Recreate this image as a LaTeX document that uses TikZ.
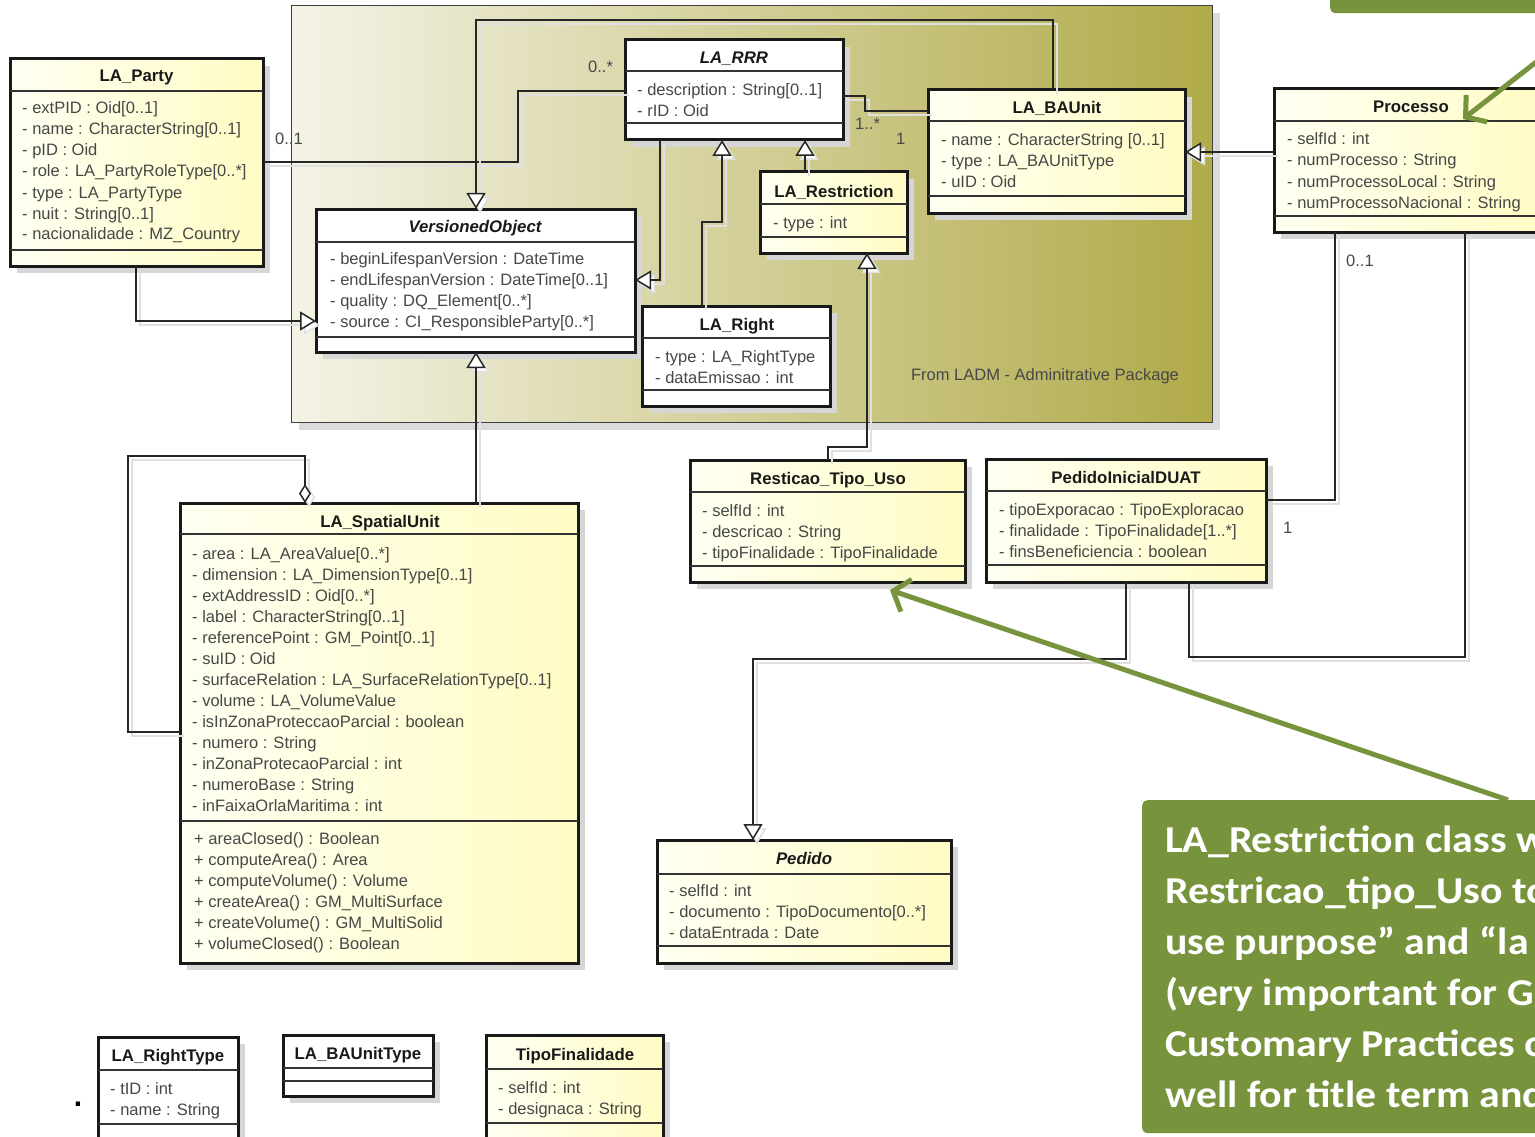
\documentclass[tikz,border=0pt]{standalone}
\usepackage{fontspec}
\setmainfont{Liberation Sans}
\newfontfamily\calib[FakeStretch=1.1]{Carlito}
\usetikzlibrary{arrows.meta}
\definecolor{yelL}{RGB}{255,255,242}
\definecolor{yelR}{RGB}{255,252,196}
\definecolor{pkgL}{RGB}{244,243,230}
\definecolor{pkgR}{RGB}{176,170,72}
\definecolor{gcol}{RGB}{119,147,60}
\newcommand\umlbox[6]{%
  \fill[shd] (#3+7,#4+7) rectangle (#5+7,#6+7);
  \node[#2, minimum width=#5-#3, minimum height=#6-#4] (#1) at (#3,#4) {};}
\newcommand\umlsep[2]{\draw[sepl] (#1.west |- 0,#2) -- (#1.east |- 0,#2);}
\newcommand\umlattrs[4]{\foreach \itm [count=\i] in {#4} {\node[attr] (#1\i) at (#2,#3+21*\i-21) {\itm};}}
\begin{document}
\begin{tikzpicture}[x=1pt,y=-1pt,
  box/.style={draw=black!90, line width=3pt, inner sep=0pt, outer sep=0pt, anchor=north west},
  ybox/.style={box, left color=yelL, right color=yelR},
  wbox/.style={box, fill=white},
  sepl/.style={line width=1.3pt, draw=black!80},
  shd/.style={fill=black!16},
  ttl/.style={font=\bfseries\fontsize{16.8}{20}\selectfont, text=black!90, anchor=base, inner sep=0pt},
  ittl/.style={ttl, font=\bfseries\itshape\fontsize{16.8}{20}\selectfont},
  attr/.style={font=\fontsize{16.5}{20}\selectfont, text=black!72, anchor=base west, inner sep=0pt},
  conn/.style={line width=1.5pt, draw=black!85, preaction={draw=black!12, line width=1.5pt, transform canvas={shift={(4pt,-4pt)}}}},
  gen/.style={conn, -{Triangle[open, length=16pt, width=19pt, fill=white]}},
  agg/.style={conn, {Diamond[open, length=19pt, width=12pt, fill=white]}-},
  garrow/.style={draw=gcol, line width=5pt, -{Straight Barb[length=14pt, width=34pt]}},
  note/.style={fill=gcol, rounded corners=5pt, anchor=north west, inner sep=0pt},
  notetxt/.style={font=\calib\bfseries\fontsize{38}{51}\selectfont, text=white, anchor=base west, inner sep=0pt}
]
\useasboundingbox (0,0) rectangle (1535,1137);
\clip (0,0) rectangle (1535,1137);
\fill[white] (0,0) rectangle (1535,1137);

% top green box (cut by the edge)
\node[note, minimum width=240, minimum height=40] (topnote) at (1330,-27) {};

% package
\fill[black!14] (299,13) rectangle (1220,430);
\node[draw=black!75, line width=1.2pt, left color=pkgL, right color=pkgR, anchor=north west,
      minimum width=921, minimum height=417, inner sep=0pt] (pkg) at (291,5) {};
\node[attr, anchor=base] (pkglabel) at (1045,380) {From LADM - Adminitrative Package};

% classes
\umlbox{party}{ybox}{10}{59}{263}{266}
\umlsep{party}{91}\umlsep{party}{250}
\node[ttl] (partyt) at (136.5,82) {LA\_Party};
\umlattrs{partya}{22}{114}{{- extPID : Oid[0..1]},{- name : CharacterString[0..1]},{- pID : Oid},{- role : LA\_PartyRoleType[0..*]},{- type : LA\_PartyType},{- nuit : String[0..1]},{- nacionalidade : MZ\_Country}}

\umlbox{vo}{wbox}{316}{209}{635}{352}
\umlsep{vo}{242}\umlsep{vo}{337}
\node[ittl] (vot) at (475,233) {VersionedObject};
\umlattrs{voa}{330}{264}{{- beginLifespanVersion : DateTime},{- endLifespanVersion : DateTime[0..1]},{- quality : DQ\_Element[0..*]},{- source : CI\_ResponsibleParty[0..*]}}

\umlbox{rrr}{wbox}{625}{40}{843}{140}
\umlsep{rrr}{71}\umlsep{rrr}{123}
\node[ittl] (rrrt) at (734,64) {LA\_RRR};
\umlattrs{rrra}{637}{96}{{- description : String[0..1]},{- rID : Oid}}

\umlbox{bau}{ybox}{928}{90}{1185}{213}
\umlsep{bau}{121}\umlsep{bau}{196}
\node[ttl] (baut) at (1057,114) {LA\_BAUnit};
\umlattrs{baua}{941}{146}{{- name : CharacterString [0..1]},{- type : LA\_BAUnitType},{- uID : Oid}}

\umlbox{res}{ybox}{760}{172}{907}{253}
\umlsep{res}{204}\umlsep{res}{237}
\node[ttl] (rest) at (834,197) {LA\_Restriction};
\umlattrs{resa}{773}{229}{{- type : int}}

\umlbox{right}{wbox}{642}{306}{830}{406}
\umlsep{right}{338}\umlsep{right}{390}
\node[ttl] (rightt) at (737,330) {LA\_Right};
\umlattrs{righta}{655}{362}{{- type : LA\_RightType},{- dataEmissao : int}}

\umlbox{proc}{ybox}{1274}{89}{1548}{232}
\umlsep{proc}{121}\umlsep{proc}{216}
\node[ttl] (proct) at (1411,113) {Processo};
\umlattrs{proca}{1287}{145}{{- selfId : int},{- numProcesso : String},{- numProcessoLocal : String},{- numProcessoNacional : String}}

\umlbox{rtu}{ybox}{690}{460}{965}{582}
\umlsep{rtu}{492}\umlsep{rtu}{566}
\node[ttl] (rtut) at (828,484) {Resticao\_Tipo\_Uso};
\umlattrs{rtua}{702}{516}{{- selfId : int},{- descricao : String},{- tipoFinalidade : TipoFinalidade}}

\umlbox{pid}{ybox}{986}{459}{1266}{582}
\umlsep{pid}{491}\umlsep{pid}{565}
\node[ttl] (pidt) at (1126,483) {PedidoInicialDUAT};
\umlattrs{pida}{999}{515}{{- tipoExporacao : TipoExploracao},{- finalidade : TipoFinalidade[1..*]},{- finsBeneficiencia : boolean}}

\umlbox{su}{ybox}{180}{503}{578}{963}
\umlsep{su}{534}\umlsep{su}{821}
\node[ttl] (sut) at (380,527) {LA\_SpatialUnit};
\umlattrs{sua}{192}{559}{{- area : LA\_AreaValue[0..*]},{- dimension : LA\_DimensionType[0..1]},{- extAddressID : Oid[0..*]},{- label : CharacterString[0..1]},{- referencePoint : GM\_Point[0..1]},{- suID : Oid},{- surfaceRelation : LA\_SurfaceRelationType[0..1]},{- volume : LA\_VolumeValue},{- isInZonaProteccaoParcial : boolean},{- numero : String},{- inZonaProtecaoParcial : int},{- numeroBase : String},{- inFaixaOrlaMaritima : int}}
\umlattrs{sum}{194}{844}{{+ areaClosed() : Boolean},{+ computeArea() : Area},{+ computeVolume() : Volume},{+ createArea() : GM\_MultiSurface},{+ createVolume() : GM\_MultiSolid},{+ volumeClosed() : Boolean}}

\umlbox{ped}{ybox}{657}{840}{951}{963}
\umlsep{ped}{874}\umlsep{ped}{946}
\node[ittl] (pedt) at (804,864) {Pedido};
\umlattrs{peda}{669}{896}{{- selfId : int},{- documento : TipoDocumento[0..*]},{- dataEntrada : Date}}

\umlbox{rt}{wbox}{98}{1037}{238}{1150}
\umlsep{rt}{1070}\umlsep{rt}{1124}
\node[ttl] (rtt) at (168,1061) {LA\_RightType};
\umlattrs{rta}{110}{1094}{{- tID : int},{- name : String}}

\umlbox{bauty}{wbox}{283}{1035}{433}{1096}
\umlsep{bauty}{1068}\umlsep{bauty}{1081}
\node[ttl] (bautyt) at (358,1059) {LA\_BAUnitType};

\umlbox{tf}{ybox}{486}{1035}{663}{1150}
\umlsep{tf}{1069}\umlsep{tf}{1123}
\node[ttl] (tft) at (575,1060) {TipoFinalidade};
\umlattrs{tfa}{498}{1093}{{- selfId : int},{- designaca : String}}

\node[font=\bfseries\fontsize{30}{30}\selectfont, inner sep=0pt, anchor=base] (dot) at (78,1106) {.};

% connectors
\draw[conn] (party.east |- 0,162) -- (518,162) -- (518,91) -- (rrr.west |- 0,91);
\draw[gen] (bau.north -| 1053,0) -- (1053,20) -- (476,20) -- (vo.north -| 476,0);
\draw[gen] (rrr.south -| 660,0) -- (660,280) -- (vo.east |- 0,280);
\draw[gen] (right.north -| 702,0) -- (702,222) -- (722,222) -- (rrr.south -| 722,0);
\draw[gen] (res.north -| 805,0) -- (rrr.south -| 805,0);
\draw[conn] (rrr.east |- 0,96) -- (865,96) -- (865,111) -- (bau.west |- 0,111);
\draw[gen] (proc.west |- 0,152) -- (bau.east |- 0,152);
\draw[gen] (rtu.north -| 828,0) -- (828,447) -- (867,447) -- (res.south -| 867,0);
\draw[gen] (party.south -| 136,0) -- (136,321) -- (vo.west |- 0,321);
\draw[gen] (su.north -| 476,0) -- (vo.south -| 476,0);
\draw[agg] (su.north -| 305,0) -- (305,456) -- (128,456) -- (128,732) -- (su.west |- 0,732);
\draw[conn] (proc.south -| 1335,0) -- (1335,500) -- (pid.east |- 0,500);
\draw[conn] (proc.south -| 1465,0) -- (1465,657) -- (1189,657) -- (pid.south -| 1189,0);
\draw[gen] (pid.south -| 1126,0) -- (1126,659) -- (753,659) -- (ped.north -| 753,0);

% multiplicities
\node[attr] (m1) at (275,145) {0..1};
\node[attr] (m2) at (588,73) {0..*};
\node[attr] (m3) at (855,130) {1..*};
\node[attr] (m4) at (896,145) {1};
\node[attr] (m5) at (1346,266) {0..1};
\node[attr] (m6) at (1283,533) {1};

% green note and arrows
\node[note, minimum width=430, minimum height=333] (note) at (1142,800) {};
\node[notetxt] (n1) at (1165,852) {LA\_Restriction class w};
\node[notetxt] (n2) at (1165,903) {Restricao\_tipo\_Uso to};
\node[notetxt] (n3) at (1165,954) {use purpose” and “la};
\node[notetxt] (n4) at (1165,1005) {(very important for G};
\node[notetxt] (n5) at (1165,1056) {Customary Practices o};
\node[notetxt] (n6) at (1165,1107) {well for title term and};
\coordinate (g1s) at (1562,42);
\coordinate (g1e) at (1463,119);
\coordinate (g2e) at (890,590);
\draw[garrow] (g1s) -- (g1e);
\draw[garrow] (note.north -| 1508,0) -- (g2e);
\end{tikzpicture}
\end{document}
